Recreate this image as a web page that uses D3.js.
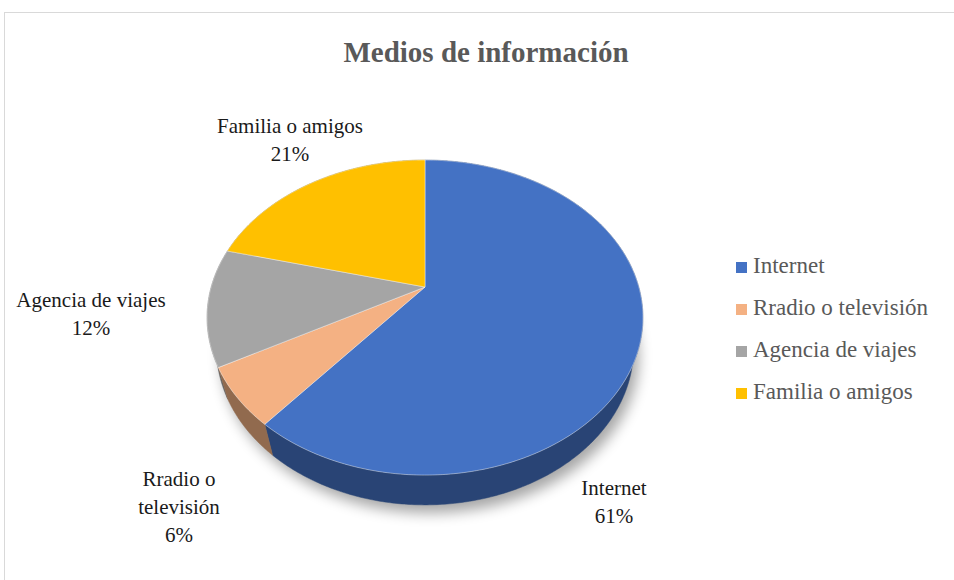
<!DOCTYPE html>
<html>
<head>
<meta charset="utf-8">
<script src="https://cdn.jsdelivr.net/npm/d3@7"></script>
<style>
  body { margin: 0; background: #fff; }
  text { font-family: "Liberation Serif", "Times New Roman", serif; }
</style>
</head>
<body>
<div id="canvas"></div>
<script>
// data
const categories = ["Internet", "Rradio o televisión", "Agencia de viajes", "Familia o amigos"];
const values = [61, 6, 12, 21];
const percentLabels = ["61%", "6%", "12%", "21%"];
const labelLines = [["Internet"], ["Rradio o", "televisión"], ["Agencia de viajes"], ["Familia o amigos"]];
const colors = ["#4472C4", "#F4B183", "#A5A5A5", "#FFC000"];
const title = "Medios de información";

const width = 954
const height = 580

const svg = d3.select("#canvas").append("svg")
    .attr("width", width)
    .attr("height", height)

// chart area border (runs off the right and bottom edges)
svg.append("rect")
    .attr("x", 4.5).attr("y", 12.5)
    .attr("width", 980).attr("height", 620)
    .attr("fill", "#fff")
    .attr("stroke", "#d9d9d9")

svg.append("text")
    .attr("x", 486).attr("y", 62)
    .attr("text-anchor", "middle")
    .attr("font-family", "Liberation Serif")
    .style("font-size", "29px")
    .style("font-weight", "bold")
    .style("fill", "#595959")
    .text(title)

// 3d perspective projection of the pie disc
const cx = 425, cy = 287
const f = 777, dist = 3.634
const sa = 0.709, ca = 0.705   // sin / cos of tilt
const thick = 0.222

function proj(theta, r, bottom) {
    const u = r * Math.sin(theta)
    const v = r * Math.cos(theta)
    const b = bottom ? thick : 0
    const den = dist + v * ca + b * sa
    return [cx + f * u / den, cy - f * (v * sa - b * ca) / den]
}

function arcPts(a0, a1, bottom) {
    const n = Math.max(2, Math.ceil(Math.abs(a1 - a0) / 0.01))
    return d3.range(n + 1).map(i => proj(a0 + (a1 - a0) * i / n, 1, bottom))
}

const pie = d3.pie().sort(null).value(d => d)
const arcs = pie(values)
const line = d3.line()

const defs = svg.append("defs")
defs.append("filter").attr("id", "shadow")
    .attr("x", "-20%").attr("y", "-20%").attr("width", "140%").attr("height", "140%")
    .append("feGaussianBlur").attr("stdDeviation", 7)

const g = svg.append("g")

// soft shadow under the pie
g.append("path")
    .attr("d", line(arcPts(0, 2 * Math.PI, true)) + "Z")
    .attr("transform", "translate(5,8)")
    .attr("fill", "#000")
    .attr("opacity", 0.35)
    .attr("filter", "url(#shadow)")

// side walls, far ones first
const walls = arcs.map((a, i) => ({a, i, mid: Math.cos((a.startAngle + a.endAngle) / 2)}))
    .sort((p, q) => q.mid - p.mid)

walls.forEach(w => {
    const top = arcPts(w.a.startAngle, w.a.endAngle, false)
    const bot = arcPts(w.a.startAngle, w.a.endAngle, true).reverse()
    g.append("path")
        .attr("d", line(top.concat(bot)) + "Z")
        .attr("fill", d3.color(colors[w.i]).darker(1.45))
        .attr("stroke", d3.color(colors[w.i]).darker(1.45))
        .attr("stroke-width", 0.5)
})

// top faces
arcs.forEach((a, i) => {
    const pts = [proj(0, 0, false)].concat(arcPts(a.startAngle, a.endAngle, false))
    g.append("path")
        .attr("d", line(pts) + "Z")
        .attr("fill", colors[i])
        .attr("stroke", "#fff")
        .attr("stroke-opacity", 0.5)
        .attr("stroke-width", 0.8)
})

// data labels
const labelPos = [[614, 495], [179, 486], [91, 307], [290, 133]]
const lineGap = 28

arcs.forEach((a, i) => {
    const t = g.append("text")
        .attr("text-anchor", "middle")
        .attr("font-family", "Liberation Serif")
        .style("font-size", "21px")
        .style("fill", "#1a1a1a")
    labelLines[i].concat([percentLabels[i]]).forEach((s, k) => {
        t.append("tspan")
            .attr("x", labelPos[i][0])
            .attr("y", labelPos[i][1] + k * lineGap)
            .text(s)
    })
})

// legend
const legend = svg.append("g").attr("transform", "translate(736,273)")
const items = legend.selectAll("g").data(categories).enter().append("g")
    .attr("transform", (d, i) => `translate(0,${i * 42})`)

items.append("rect")
    .attr("x", 0).attr("y", -11)
    .attr("width", 11).attr("height", 11)
    .attr("fill", (d, i) => colors[i])

items.append("text")
    .attr("x", 17).attr("y", 0)
    .attr("font-family", "Liberation Serif")
    .style("font-size", "23px")
    .style("fill", "#595959")
    .text(d => d)
</script>
</body>
</html>
